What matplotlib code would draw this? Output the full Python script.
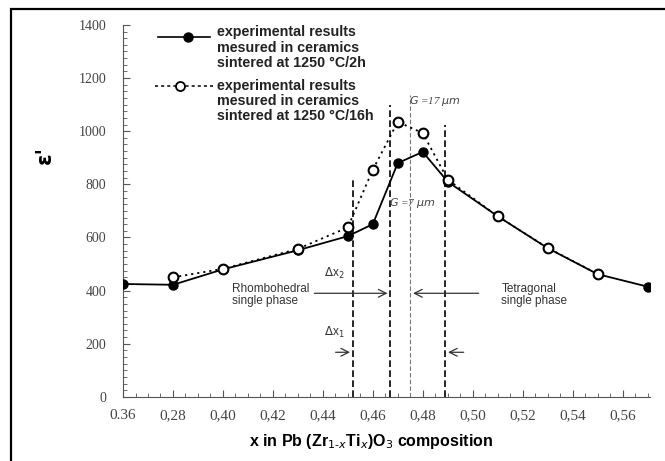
import matplotlib

matplotlib.use("Agg")
import matplotlib.pyplot as plt
from matplotlib.patches import Rectangle
from matplotlib.ticker import MultipleLocator

# composition x and permittivity values
x_2h = [0.36, 0.38, 0.40, 0.43, 0.45, 0.46, 0.47, 0.48, 0.49, 0.51, 0.53, 0.55, 0.57]
eps_2h = [425, 422, 480, 552, 605, 650, 880, 922, 810, 680, 560, 462, 415]
x_16h = [0.38, 0.40, 0.43, 0.45, 0.46, 0.47, 0.48, 0.49, 0.51, 0.53, 0.55]
eps_16h = [450, 482, 557, 638, 855, 1035, 993, 818, 680, 561, 463]

# phase boundary markers
bound_x = [0.452, 0.467, 0.475, 0.489]
bound_top = [826, 1099, 1136, 1024]

x_ticks = [0.36, 0.38, 0.40, 0.42, 0.44, 0.46, 0.48, 0.50, 0.52, 0.54, 0.56]
x_tick_labels = ["0.36", "0,28", "0,40", "0,42", "0,44", "0,46", "0,48",
                 "0,50", "0,52", "0,54", "0,56"]
y_ticks = [0, 200, 400, 600, 800, 1000, 1200, 1400]

SERIF = "Liberation Serif"
SANS = "Liberation Sans"

fig = plt.figure(figsize=(6.65, 4.61), dpi=100)
ax = fig.add_axes([0.185, 0.139, 0.7925, 0.807])

# outer frame around the picture
fig.patches.append(Rectangle((11 / 665, -0.05), 1.1, 1 - 9 / 461 + 0.05,
                             transform=fig.transFigure, fill=False,
                             edgecolor="black", linewidth=1.6))

ax.plot(x_2h, eps_2h, "-", color="black", linewidth=1.3, marker="o",
        markersize=6.5, markerfacecolor="black", zorder=3)
ax.plot(x_16h, eps_16h, linestyle=(0, (1.2, 2.2)), color="black",
        linewidth=1.3, marker="o", markersize=7, markerfacecolor="white",
        markeredgewidth=1.5, zorder=4)

for i, (bx, top) in enumerate(zip(bound_x, bound_top)):
    if i == 2:
        ax.vlines(bx, 0, top, colors="#777777", linestyles=(0, (4, 2)),
                  linewidth=0.8)
    else:
        ax.vlines(bx, 0, top, colors="black", linestyles=(0, (4, 2)),
                  linewidth=1.2)

arrow = dict(arrowstyle="->", color="#333333", linewidth=0.9,
             mutation_scale=14)
ax.annotate("", xy=(bound_x[1], 390), xytext=(0.4355, 390), arrowprops=arrow)
ax.annotate("", xy=(bound_x[2], 390), xytext=(0.5035, 390), arrowprops=arrow)
ax.annotate("", xy=(bound_x[0], 168), xytext=(0.444, 168), arrowprops=arrow)
ax.annotate("", xy=(bound_x[3], 168), xytext=(0.4975, 168), arrowprops=arrow)

ax.text(0.4405, 464, r"$\Delta$x$_2$", fontsize=8.5, family=SANS,
        color="#333333", ha="left", va="center")
ax.text(0.4405, 243, r"$\Delta$x$_1$", fontsize=8.5, family=SANS,
        color="#333333", ha="left", va="center")
ax.text(0.4745, 1113, r"$G$ =17 $\mu m$", fontsize=8, family=SERIF,
        style="italic", color="#444444", ha="left", va="center")
ax.text(0.4665, 729, r"$G$ =7 $\mu m$", fontsize=8, family=SERIF,
        style="italic", color="#444444", ha="left", va="center")
ax.text(0.4035, 385, "Rhombohedral\nsingle phase", fontsize=8.5, family=SANS,
        color="#333333", ha="left", va="center", linespacing=1.0)
ax.text(0.5115, 382, "Tetragonal\nsingle phase", fontsize=8.5, family=SANS,
        color="#333333", ha="left", va="center", linespacing=1.0)

# legend drawn by hand like the original
ax.plot([0.374, 0.3947], [1353, 1353], "-", color="black", linewidth=1.2,
        clip_on=False)
ax.plot([0.3859], [1353], "o", color="black", markersize=6.5, clip_on=False)
ax.text(0.3978, 1398, "experimental results\nmesured in ceramics\nsintered at 1250 °C/2h",
        fontsize=10.3, family=SANS, fontweight="bold", color="#222222",
        ha="left", va="top", linespacing=1.1)
ax.plot([0.3728, 0.3967], [1170, 1170], linestyle=(0, (2, 2)), color="black",
        linewidth=1.1, clip_on=False)
ax.plot([0.3827], [1170], "o", color="black", markerfacecolor="white",
        markersize=6.5, markeredgewidth=1.3, clip_on=False)
ax.text(0.3978, 1196, "experimental results\nmesured in ceramics\nsintered at 1250 °C/16h",
        fontsize=10.3, family=SANS, fontweight="bold", color="#222222",
        ha="left", va="top", linespacing=1.1)

ax.set_xlim(0.36, 0.571)
ax.set_ylim(0, 1400)
ax.spines["top"].set_visible(False)
ax.spines["right"].set_visible(False)
ax.spines["left"].set_color("#555555")
ax.spines["bottom"].set_color("#555555")

ax.set_xticks(x_ticks)
ax.set_xticklabels(x_tick_labels, family=SERIF, fontsize=11, color="#444444")
ax.set_yticks(y_ticks)
ax.set_yticklabels([str(v) for v in y_ticks], family=SERIF, fontsize=10,
                   color="#444444")
ax.xaxis.set_minor_locator(MultipleLocator(0.005))
ax.yaxis.set_minor_locator(MultipleLocator(25))
ax.tick_params(which="both", direction="in", color="#555555")
ax.tick_params(which="major", length=5)
ax.tick_params(axis="x", which="major", pad=9)
ax.tick_params(axis="y", which="major", pad=12)
ax.tick_params(which="minor", length=3)

ax.set_xlabel(r"x in Pb (Zr$_{1\text{-}x}$Ti$_x$)O$_3$ composition",
              family=SANS, fontsize=11.5, fontweight="bold")
ax.xaxis.set_label_coords(0.47, -0.095)
ax.set_ylabel("ε'", family="DejaVu Sans", fontsize=15, fontweight="bold",
              rotation=90)
ax.yaxis.set_label_coords(-0.13, 0.65)

fig.savefig("out.png", dpi=100)
